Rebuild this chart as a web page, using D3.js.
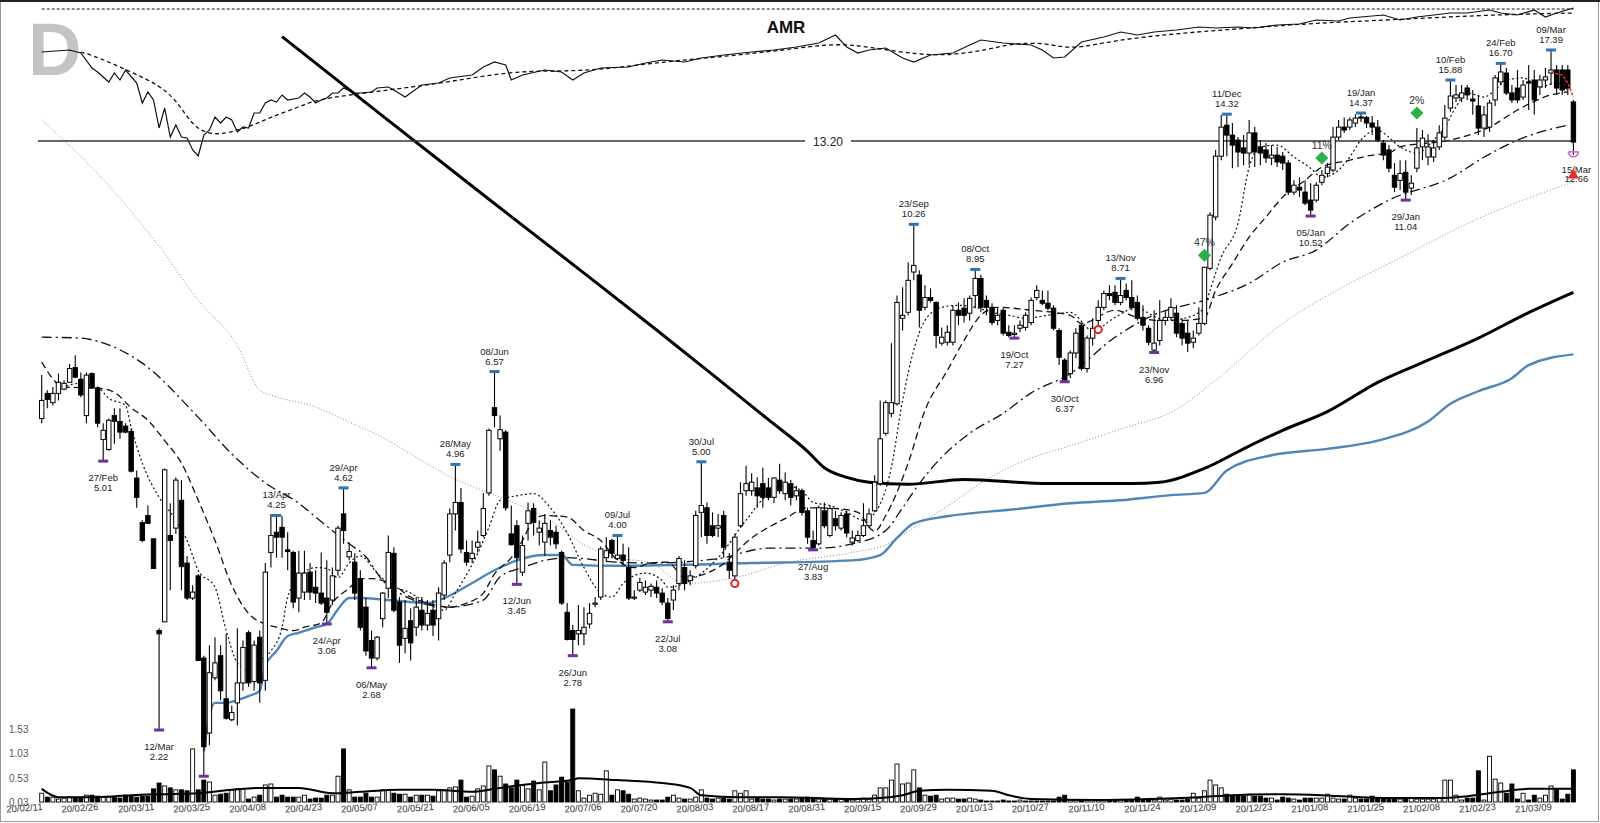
<!DOCTYPE html>
<html><head><meta charset="utf-8">
<script src="https://cdn.jsdelivr.net/npm/d3@7"></script>
<style>body{margin:0;background:#fff}svg{display:block}text{font-family:"Liberation Sans",Arial,sans-serif}</style>
</head><body><svg id="c" width="1600" height="823"></svg>
<script>
// ---------------- DATA ----------------
const openP=[5.70,6.15,5.98,6.15,6.23,6.36,6.65,6.42,5.75,6.53,
6.25,5.35,5.19,5.75,5.65,5.57,5.48,4.76,4.16,4.25,
3.96,3.00,3.08,4.00,4.09,4.45,3.68,3.31,3.54,2.76,
2.20,2.60,2.78,2.44,2.29,2.41,2.56,2.98,2.57,2.94,
2.58,3.80,4.04,4.10,3.83,3.80,3.31,3.37,3.58,3.42,
3.36,3.31,3.29,3.60,4.27,3.75,3.69,3.51,3.22,2.91,
2.76,3.11,3.41,3.79,3.27,2.93,3.09,3.03,3.19,3.05,
3.19,3.11,3.34,3.77,4.27,4.42,3.80,3.73,3.86,4.00,
4.55,5.89,5.36,5.47,4.02,4.12,3.58,4.15,4.34,4.04,
3.92,4.06,4.04,3.80,3.17,3.00,2.97,2.97,3.06,3.26,
3.32,3.74,3.94,3.73,3.77,3.63,3.31,3.39,3.37,3.39,
3.42,3.36,3.26,3.29,3.46,3.63,3.49,3.65,4.29,4.35,
4.12,4.09,4.25,3.69,3.54,4.12,4.58,4.58,4.62,4.68,
4.62,4.49,4.73,4.54,4.68,4.51,4.58,4.31,3.94,3.90,
4.31,4.00,4.21,4.09,4.27,3.92,3.94,4.00,4.12,4.31,
4.68,5.45,5.79,5.96,7.72,7.86,8.88,8.80,7.98,8.22,
8.10,7.16,7.18,7.18,7.91,7.96,7.84,8.27,8.71,8.15,
7.98,7.67,7.91,7.40,7.35,7.49,7.51,7.62,8.22,8.15,
8.08,7.96,7.44,6.80,6.53,6.95,7.56,6.63,7.27,7.67,
7.98,8.32,8.35,8.10,8.40,8.22,8.10,7.74,7.49,7.01,
7.22,7.67,7.74,7.84,7.60,7.38,7.18,7.38,7.60,8.98,
10.49,12.61,13.85,13.44,13.24,12.93,12.73,13.53,12.97,12.85,
12.54,12.65,12.61,12.35,11.31,11.48,11.31,11.04,11.04,11.65,
11.97,12.09,13.36,13.77,13.77,13.94,14.20,14.18,13.94,13.77,
13.12,12.85,11.90,11.72,12.01,11.45,12.16,12.97,12.58,12.58,
12.97,13.36,14.59,15.04,15.04,15.50,14.99,14.68,13.73,13.77,
14.95,15.79,16.22,15.27,15.50,15.08,15.79,15.88,15.55,15.88,
16.22,16.37,16.37,16.37,14.86];
const highP=[6.50,6.21,6.27,6.53,6.40,6.72,6.90,6.55,6.55,6.55,
6.27,5.62,5.70,5.88,5.88,5.62,5.53,4.87,4.19,4.38,
3.96,3.02,4.90,4.41,4.77,4.73,3.76,3.44,3.56,2.78,
2.87,2.94,2.87,2.97,2.39,3.02,2.91,3.00,2.91,3.00,
3.68,4.27,4.25,4.24,4.04,3.82,3.82,3.82,3.68,3.60,
3.80,3.71,3.63,4.12,4.62,3.92,3.79,3.60,3.31,3.00,
2.95,3.37,4.00,3.86,3.32,3.29,3.21,3.32,3.32,3.29,
3.29,3.42,3.71,4.34,4.96,4.62,3.94,3.94,4.06,4.55,
5.53,6.57,5.75,5.50,4.38,4.19,4.00,4.42,4.41,4.19,
4.27,4.19,4.12,3.82,3.26,3.05,3.24,3.22,3.26,3.32,
3.87,3.98,3.96,4.00,3.90,3.86,3.39,3.52,3.49,3.46,
3.49,3.41,3.31,3.44,3.76,3.71,3.60,4.31,5.00,4.42,
4.29,4.27,4.31,3.79,4.02,4.70,4.94,4.83,4.77,4.91,
4.76,4.77,4.97,4.84,4.73,4.65,4.61,4.35,4.06,4.38,
4.42,4.38,4.31,4.29,4.31,4.06,4.06,4.41,4.34,4.80,
6.02,6.02,7.16,8.27,8.48,9.15,10.26,8.93,8.53,8.45,
8.13,7.51,7.56,8.03,8.10,8.20,8.27,8.95,8.80,8.27,
8.08,7.96,7.96,7.56,7.56,7.67,7.86,8.22,8.53,8.40,
8.40,8.03,7.49,6.84,7.00,7.49,7.60,7.33,7.72,8.15,
8.40,8.53,8.53,8.71,8.58,8.66,8.27,8.03,7.56,7.91,
8.15,7.91,8.20,8.03,7.72,7.67,7.44,7.98,9.01,10.65,
12.85,14.28,14.32,13.94,13.36,13.44,14.07,13.77,13.24,13.12,
13.04,12.97,12.77,12.46,11.72,11.83,11.72,11.62,11.65,12.09,
12.35,13.77,14.07,14.18,14.18,14.32,14.37,14.24,14.24,14.07,
13.24,13.04,12.35,12.46,12.46,11.90,13.73,13.65,13.48,13.24,
13.85,14.72,15.88,15.64,15.64,15.64,15.41,15.18,14.68,14.95,
16.12,16.70,16.47,15.64,16.37,15.88,16.62,16.37,16.12,16.47,
17.39,16.62,16.62,16.62,14.95];
const lowP=[5.62,5.88,5.93,6.02,6.21,6.36,6.44,6.08,5.62,6.23,
5.55,5.01,5.17,5.28,5.36,5.45,4.84,4.35,3.92,4.15,
3.62,2.22,3.08,3.39,4.02,3.39,3.29,3.29,2.74,1.93,
2.12,2.58,2.43,2.29,2.28,2.25,2.50,2.53,2.50,2.41,
2.50,3.63,3.74,3.74,3.60,3.21,3.17,3.29,3.29,3.26,
3.24,3.06,3.24,3.54,3.90,3.71,3.29,3.00,2.78,2.68,
2.74,3.03,3.31,3.17,2.72,2.80,2.74,2.95,3.00,3.00,
2.95,2.91,3.29,3.69,4.06,3.79,3.65,3.68,3.80,3.98,
4.51,5.55,5.17,4.31,3.88,3.45,3.54,3.94,4.00,3.88,
3.76,3.88,3.84,3.24,2.91,2.78,2.87,2.87,3.02,3.22,
3.29,3.69,3.73,3.71,3.65,3.29,3.29,3.37,3.34,3.32,
3.31,3.24,3.08,3.19,3.39,3.39,3.44,3.62,3.98,3.90,
3.98,3.98,3.74,3.51,3.49,4.10,4.51,4.51,4.35,4.35,
4.45,4.41,4.54,4.45,4.38,4.45,4.25,3.90,3.83,3.88,
4.09,3.98,4.06,4.06,3.98,3.88,3.92,3.98,4.09,4.29,
4.65,5.41,5.72,5.93,7.44,7.79,8.66,7.51,7.91,8.10,
7.05,7.11,7.11,7.11,7.56,7.62,7.67,7.96,7.86,7.79,
7.56,7.56,7.33,7.29,7.27,7.40,7.44,7.56,8.15,8.03,
7.91,7.44,6.70,6.37,6.44,6.84,6.59,6.55,7.11,7.56,
7.91,8.15,8.03,8.03,8.15,7.91,7.67,7.44,7.11,6.96,
7.11,7.56,7.67,7.29,7.11,6.97,7.05,7.33,7.56,8.93,
10.39,12.46,12.61,12.16,12.20,12.27,12.27,12.20,12.27,12.35,
12.27,12.20,12.09,11.21,11.21,11.14,10.87,10.52,10.97,11.55,
11.83,12.01,13.24,13.53,13.65,13.77,13.98,13.73,13.44,13.16,
12.46,12.01,11.31,11.38,11.04,11.21,12.01,12.46,12.27,12.39,
12.85,13.24,14.42,14.86,14.86,14.95,14.29,13.44,13.36,13.57,
14.68,15.64,15.18,14.81,14.81,14.95,14.50,14.29,15.18,15.50,
15.64,15.18,15.18,15.18,12.66];
const closeP=[6.02,6.04,6.15,6.36,6.34,6.63,6.46,6.12,6.50,6.25,
5.62,5.50,5.67,5.65,5.47,5.47,4.86,4.49,3.94,4.15,
3.62,2.97,4.88,3.94,4.73,3.64,3.31,3.37,2.74,2.11,
2.64,2.72,2.50,2.30,2.34,2.56,2.85,2.56,2.87,2.56,
3.58,4.00,3.98,3.98,3.81,3.27,3.57,3.57,3.37,3.36,
3.26,3.17,3.54,4.09,4.06,3.81,3.36,3.03,2.82,2.76,
2.94,3.36,3.80,3.19,2.87,3.02,2.89,3.22,3.05,3.16,
3.05,3.36,3.68,4.27,4.42,3.84,3.69,3.79,3.92,4.34,
5.50,5.75,5.51,4.35,3.89,3.74,3.88,4.31,4.16,4.09,
4.15,3.98,3.90,3.26,2.92,2.92,3.00,3.03,3.16,3.26,
3.84,3.82,3.79,3.77,3.71,3.31,3.32,3.47,3.42,3.43,
3.36,3.27,3.11,3.39,3.73,3.46,3.54,4.25,4.38,4.00,
4.00,4.12,3.86,3.60,3.98,4.54,4.68,4.70,4.51,4.49,
4.49,4.76,4.58,4.70,4.49,4.58,4.29,3.98,3.86,4.35,
4.12,4.34,4.12,4.25,4.03,3.97,4.00,4.12,4.27,4.70,
5.36,5.98,5.98,8.10,7.79,8.66,9.06,7.91,8.22,8.15,
7.33,7.29,7.40,7.91,7.79,7.79,8.20,8.71,7.98,7.98,
7.62,7.79,7.38,7.33,7.38,7.56,7.79,8.15,8.40,8.08,
7.96,7.49,6.86,6.40,6.95,7.38,6.63,7.27,7.49,7.98,
8.32,8.27,8.10,8.27,8.22,7.98,7.72,7.56,7.18,7.16,
7.67,7.74,7.98,7.38,7.27,7.16,7.27,7.60,9.01,10.55,
12.61,13.77,13.44,13.04,12.77,12.73,13.53,12.77,12.73,12.54,
12.65,12.39,12.35,11.31,11.55,11.38,10.94,10.71,11.55,11.90,
12.20,13.36,13.77,13.65,14.07,14.15,14.15,13.94,13.77,13.24,
12.65,12.16,11.48,11.97,11.31,11.62,12.93,13.32,12.97,12.93,
13.53,14.15,15.13,15.18,15.27,15.18,14.90,13.73,14.29,14.81,
15.98,16.27,15.27,14.95,14.95,15.64,15.74,14.95,15.88,16.03,
16.37,15.50,15.41,15.50,13.16];
const volume=[0.21,0.13,0.13,0.09,0.11,0.13,0.11,0.13,0.17,0.17,
0.15,0.13,0.13,0.13,0.11,0.17,0.15,0.13,0.15,0.15,
0.30,0.42,0.36,0.32,0.28,0.28,0.26,1.12,0.28,0.48,
0.44,0.17,0.19,0.21,0.28,0.30,0.30,0.09,0.13,0.17,
0.38,0.40,0.13,0.17,0.13,0.13,0.13,0.17,0.09,0.11,
0.11,0.17,0.17,0.56,1.12,0.28,0.13,0.13,0.21,0.13,
0.13,0.28,0.28,0.21,0.19,0.19,0.13,0.17,0.17,0.17,
0.15,0.26,0.26,0.32,0.34,0.48,0.13,0.15,0.30,0.36,
0.77,0.69,0.56,0.40,0.32,0.48,0.38,0.30,0.46,0.28,
0.85,0.26,0.38,0.54,0.44,1.94,0.26,0.11,0.17,0.21,
0.19,0.67,0.17,0.28,0.26,0.19,0.09,0.11,0.09,0.07,
0.07,0.07,0.13,0.17,0.11,0.09,0.09,0.13,0.28,0.11,
0.09,0.11,0.11,0.09,0.26,0.21,0.26,0.09,0.11,0.09,
0.09,0.07,0.09,0.09,0.09,0.09,0.11,0.13,0.11,0.09,
0.09,0.09,0.09,0.09,0.07,0.07,0.09,0.11,0.09,0.17,
0.32,0.32,0.48,0.81,0.40,0.42,0.69,0.32,0.17,0.15,
0.17,0.09,0.11,0.11,0.09,0.09,0.11,0.09,0.07,0.05,
0.05,0.05,0.07,0.05,0.05,0.07,0.05,0.05,0.05,0.05,
0.05,0.05,0.13,0.17,0.07,0.07,0.07,0.07,0.07,0.07,
0.07,0.07,0.07,0.07,0.07,0.07,0.13,0.07,0.07,0.07,
0.13,0.07,0.09,0.07,0.07,0.09,0.21,0.11,0.26,0.48,
0.38,0.32,0.19,0.15,0.15,0.15,0.19,0.15,0.15,0.11,
0.11,0.07,0.13,0.11,0.09,0.07,0.11,0.11,0.11,0.11,
0.19,0.11,0.09,0.09,0.17,0.11,0.09,0.09,0.15,0.11,
0.11,0.09,0.09,0.09,0.09,0.11,0.09,0.09,0.09,0.09,
0.11,0.48,0.48,0.17,0.07,0.11,0.11,0.67,0.07,0.97,
0.50,0.42,0.21,0.40,0.09,0.21,0.07,0.17,0.11,0.17,
0.36,0.28,0.09,0.19,0.69];
const xTickLabels=["20/02/11","20/02/26","20/03/11","20/03/25","20/04/08","20/04/23","20/05/07","20/05/21","20/06/05","20/06/19","20/07/06","20/07/20","20/08/03","20/08/17","20/08/31","20/09/15","20/09/29","20/10/13","20/10/27","20/11/10","20/11/24","20/12/09","20/12/23","21/01/08","21/01/25","21/02/08","21/02/23","21/03/09"];
const xTickIndex=[0,10,20,30,40,50,60,70,80,90,100,110,120,130,140,150,160,170,180,190,200,210,220,230,240,250,260,270];
const volTicks=[0.03,0.53,1.03,1.53];
const refLevel=13.20;
// moving averages: [day index, price]
const ma10=[[3,6.21],[5,6.31],[7,6.34],[10,6.27],[12,6.06],[15,5.93],[16,5.55],[18,4.98],[21,4.49],[24,4.19],[26,3.94],[28,3.60],[31,3.42],[33,3.00],[35,2.72],[37,2.66],[39,2.74],[41,2.82],[43,3.03],[44,3.32],[46,3.52],[49,3.63],[51,3.62],[53,3.52],[55,3.68],[57,3.76],[60,3.57],[62,3.46],[66,3.36],[69,3.26],[72,3.19],[74,3.36],[78,3.79],[80,4.10],[82,4.45],[85,4.51],[88,4.54],[91,4.35],[94,4.03],[97,3.63],[100,3.36],[102,3.32],[104,3.46],[108,3.57],[111,3.49],[112,3.42],[115,3.46],[121,3.74],[126,4.19],[130,4.54],[133,4.65],[136,4.58],[138,4.42],[141,4.38],[144,4.29],[147,4.19],[149,4.28],[152,4.92],[154,6.02],[156,7.01],[158,7.67],[161,7.98],[164,8.03],[167,7.98],[170,7.86],[173,7.79],[176,7.72],[180,7.79],[184,7.86],[188,7.44],[192,7.74],[196,7.98],[198,7.84],[201,7.67],[205,7.74],[208,7.98],[209,8.40],[211,9.29],[214,10.29],[216,12.20],[218,12.97],[221,13.04],[224,12.58],[227,12.16],[229,11.83],[232,12.09],[234,12.58],[236,13.24],[239,13.65],[240,13.53],[243,12.97],[246,12.73],[249,13.24],[251,13.77],[253,14.64],[255,15.27],[258,15.08],[260,15.41],[262,15.88],[265,15.98],[268,15.55],[271,15.74],[273,15.41]];
const ma21=[[0,6.76],[4,6.27],[10,6.25],[13,6.17],[16,5.89],[19,5.67],[22,5.33],[25,4.98],[28,4.45],[31,3.94],[34,3.44],[37,3.16],[40,3.06],[42,3.03],[45,3.00],[47,3.03],[50,3.07],[52,3.26],[55,3.41],[57,3.51],[59,3.51],[63,3.44],[66,3.32],[69,3.26],[73,3.22],[76,3.26],[79,3.36],[81,3.56],[84,3.74],[86,3.94],[88,4.19],[90,4.25],[94,4.23],[97,4.06],[100,3.94],[103,3.71],[106,3.63],[109,3.68],[112,3.69],[115,3.52],[121,3.63],[127,3.97],[133,4.21],[137,4.35],[142,4.34],[146,4.29],[149,4.05],[151,4.25],[155,4.98],[158,5.84],[162,6.59],[165,7.22],[168,7.79],[171,7.98],[177,7.91],[184,7.79],[186,7.60],[192,7.91],[196,7.74],[200,7.67],[204,7.67],[208,7.74],[210,8.40],[213,9.11],[216,9.87],[219,10.49],[222,11.14],[226,11.72],[229,12.20],[234,12.46],[238,12.65],[241,12.73],[243,12.97],[252,13.24],[259,13.77],[264,14.50],[270,15.18],[273,15.32]];
const ma50=[[0,7.29],[7,7.27],[10,7.20],[18,6.74],[28,5.72],[34,5.12],[40,4.69],[46,4.41],[49,4.23],[55,3.90],[58,3.75],[61,3.49],[64,3.36],[68,3.26],[73,3.22],[79,3.29],[82,3.53],[86,3.63],[90,3.71],[94,3.74],[103,3.69],[109,3.68],[121,3.73],[130,3.85],[139,3.85],[145,3.90],[151,4.06],[154,4.35],[157,4.68],[160,4.98],[166,5.45],[172,5.79],[177,6.16],[184,6.53],[192,7.29],[198,7.74],[210,8.24],[216,8.58],[222,9.15],[228,9.49],[234,10.29],[241,11.04],[252,11.81],[258,12.57],[264,13.24],[273,13.85]];
const ma150=[[0,14.07],[7,12.60],[14,11.10],[21,9.60],[28,8.15],[35,7.11],[39,6.21],[41,6.12],[49,5.90],[55,5.64],[61,5.38],[67,5.07],[73,4.78],[79,4.58],[85,4.40],[91,4.19],[97,3.89],[103,3.74],[109,3.68],[115,3.46],[124,3.52],[133,3.68],[145,3.80],[151,3.89],[157,4.14],[163,4.42],[168,4.69],[175,4.99],[184,5.25],[193,5.52],[203,5.86],[210,6.40],[222,7.60],[234,8.58],[241,9.11],[257,10.44],[274,11.67]];
const ma200=[[43,18.11],[60,14.43],[80,11.07],[100,8.51],[110,7.45],[120,6.51],[130,5.68],[137,5.16],[140,4.91],[144,4.77],[148,4.70],[155,4.67],[165,4.74],[180,4.68],[195,4.68],[200,4.70],[208,4.90],[215,5.20],[222,5.50],[230,5.82],[239,6.36],[248,6.80],[257,7.27],[265,7.79],[274,8.35]];
const avwap=[[29,2.08],[30,2.32],[31,2.41],[33,2.41],[35,2.43],[37,2.46],[39,2.50],[40,2.70],[42,2.82],[44,2.95],[46,2.98],[49,3.03],[51,3.06],[53,3.20],[55,3.31],[57,3.31],[62,3.29],[69,3.26],[72,3.31],[76,3.43],[81,3.60],[85,3.71],[90,3.77],[93,3.77],[95,3.66],[103,3.65],[127,3.68],[145,3.71],[150,3.77],[153,3.97],[156,4.15],[162,4.24],[174,4.33],[184,4.41],[193,4.45],[202,4.52],[208,4.55],[212,4.87],[220,5.10],[230,5.20],[239,5.33],[248,5.65],[252,5.96],[257,6.19],[263,6.44],[266,6.70],[274,6.92]];
const ma5Red=[[270,16.27],[272,16.12],[273,15.74],[274,15.08]];
const volMA=[[0,0.30],[3,0.13],[10,0.13],[16,0.17],[21,0.19],[28,0.21],[34,0.28],[39,0.32],[46,0.32],[52,0.21],[57,0.24],[64,0.28],[70,0.28],[77,0.24],[82,0.32],[89,0.42],[95,0.48],[96,0.52],[103,0.48],[111,0.42],[116,0.32],[118,0.17],[125,0.13],[132,0.13],[145,0.09],[150,0.11],[154,0.17],[157,0.26],[162,0.28],[170,0.26],[173,0.17],[177,0.09],[189,0.07],[198,0.09],[207,0.13],[213,0.17],[222,0.19],[229,0.17],[236,0.13],[243,0.11],[250,0.11],[255,0.15],[261,0.24],[266,0.30],[274,0.30]];
// relative strength line (AMR pane), arbitrary units
const rsLine=[[0,108],[5,110],[7,107],[9,92],[10,88],[12,78],[13,87],[14,80],[15,90],[17,77],[18,57],[19,68],[20,60],[21,32],[22,52],[23,23],[24,35],[25,23],[26,22],[27,10],[28,4],[29,25],[30,30],[31,43],[32,37],[33,43],[34,40],[35,28],[36,33],[37,32],[38,47],[39,47],[40,57],[41,60],[42,58],[43,65],[44,60],[46,62],[47,67],[48,63],[49,57],[50,60],[51,62],[52,67],[53,67],[54,72],[56,67],[57,67],[59,68],[60,72],[62,73],[63,70],[65,63],[68,75],[71,77],[73,82],[77,85],[79,93],[81,98],[83,95],[84,80],[86,85],[90,90],[93,88],[95,80],[97,87],[100,92],[105,93],[108,97],[111,100],[115,98],[118,102],[122,105],[127,108],[131,110],[135,113],[139,117],[142,125],[144,113],[146,107],[148,110],[151,112],[154,102],[156,98],[159,105],[163,107],[166,115],[168,120],[172,117],[177,115],[179,110],[181,102],[183,103],[186,118],[190,123],[193,128],[196,125],[199,128],[203,130],[207,133],[210,132],[214,133],[217,132],[221,135],[225,136],[228,140],[232,139],[234,142],[236,143],[240,145],[243,140],[246,143],[249,145],[252,147],[255,147],[259,150],[261,147],[264,145],[267,150],[269,143],[271,147],[274,152]];
const rsMA=[[7,108],[10,103],[16,88],[21,75],[24,60],[26,43],[28,30],[31,25],[34,28],[38,35],[41,43],[46,53],[49,60],[55,65],[62,70],[73,78],[85,90],[97,88],[109,97],[121,103],[133,110],[142,117],[148,113],[157,105],[163,105],[169,110],[174,117],[180,117],[184,110],[192,120],[204,127],[216,132],[228,137],[241,140],[258,145],[274,147]];
// swing high / low annotations
const highMarks=[[42,"13/Apr",4.25],[54,"29/Apr",4.62],[74,"28/May",4.96],[81,"08/Jun",6.57],[103,"09/Jul",4.00],[118,"30/Jul",5.00],[156,"23/Sep",10.26],[167,"08/Oct",8.95],[193,"13/Nov",8.71],[212,"11/Dec",14.32],[236,"19/Jan",14.37],[252,"10/Feb",15.88],[261,"24/Feb",16.70],[270,"09/Mar",17.39]];
const lowMarks=[[11,"27/Feb",5.01],[21,"12/Mar",2.22],[29,"",1.93],[51,"24/Apr",3.06],[59,"06/May",2.68],[85,"12/Jun",3.45],[95,"26/Jun",2.78],[112,"22/Jul",3.08],[138,"27/Aug",3.83],[174,"19/Oct",7.27],[183,"30/Oct",6.37],[199,"23/Nov",6.96],[227,"05/Jan",10.52],[244,"29/Jan",11.04]];
const lastLow=[274,"15/Mar",12.66];
const diamonds=[[208,9.34,"47%"],[229,12.54,"11%"],[246,14.37,"2%"]];
const redCircles=[[124,3.46],[189,7.46]];
const redTriangle=[274,11.90];

// ---------------- SCALES ----------------
const svg=d3.select("#c");
const x=d3.scaleLinear().domain([0,274]).range([41.7,1573.4]);
const y=d3.scaleLog().domain([2.22,17.39]).range([730,50]);
const yv=d3.scaleLinear().domain([0.03,1.53]).range([802,729]);
const yr=d3.scaleLinear().domain([0,152]).range([160,8]);

// frame
svg.append("rect").attr("x",0.5).attr("y",0.5).attr("width",1598).attr("height",821).attr("fill","#fff").attr("stroke","#999");
svg.append("line").attr("x1",0).attr("x2",1600).attr("y1",1).attr("y2",1).attr("stroke","#222").attr("stroke-width",2);

// big letter
svg.append("text").attr("x",28).attr("y",75).attr("font-size",74).attr("font-weight","bold").attr("fill","#c4c4c4").text("D");

// top dashed line
svg.append("line").attr("x1",x(0)).attr("x2",x(274)).attr("y1",9).attr("y2",9).attr("stroke","#666").attr("stroke-width",1.5).attr("stroke-dasharray","3,2");

// RS pane
svg.append("text").attr("x",786).attr("y",33).attr("text-anchor","middle").attr("font-size",17).attr("font-weight","bold").attr("fill","#111").text("AMR");
svg.append("path").datum(rsMA).attr("d",d3.line().x(d=>x(d[0])).y(d=>yr(d[1])).curve(d3.curveBasis)).attr("fill","none").attr("stroke","#111").attr("stroke-width",1.3).attr("stroke-dasharray","4,3");
svg.append("path").datum(rsLine).attr("d",d3.line().x(d=>x(d[0])).y(d=>yr(d[1]))).attr("fill","none").attr("stroke","#111").attr("stroke-width",1.2);

// MA lines
const mline=(c)=>d3.line().x(d=>x(d[0])).y(d=>y(d[1])).curve(c||d3.curveMonotoneX);
const addLine=(data,stroke,w,dash,curve)=>svg.append("path").datum(data).attr("d",mline(curve)).attr("fill","none").attr("stroke",stroke).attr("stroke-width",w).attr("stroke-dasharray",dash||null);
addLine(ma150,"#8a8a8a",1,"1,2");
addLine(ma200,"#000",3);
addLine(avwap,"#4f86b8",2.4);
addLine(ma50,"#111",1.3,"10,4,2,4");
addLine(ma21,"#111",1.3,"7,4");
addLine(ma10,"#111",1.2,"2,2.5");

// reference line 13.20
svg.append("line").attr("x1",38).attr("x2",x(274)).attr("y1",y(refLevel)).attr("y2",y(refLevel)).attr("stroke","#333").attr("stroke-width",1.6);
svg.append("rect").attr("x",805).attr("y",y(refLevel)-7).attr("width",46).attr("height",14).attr("fill","#fff");
svg.append("text").attr("x",828).attr("y",y(refLevel)+4.5).attr("text-anchor","middle").attr("font-size",12).attr("fill","#222").text(refLevel.toFixed(2));

// volume
const idx=d3.range(openP.length);
svg.append("g").selectAll("rect").data(idx).join("rect")
 .attr("x",i=>x(i)-2).attr("width",4)
 .attr("y",i=>yv(volume[i])).attr("height",i=>Math.max(0.5,yv(0.03)-yv(volume[i])))
 .attr("fill",i=>closeP[i]>=openP[i]?"#fff":"#000").attr("stroke","#000").attr("stroke-width",0.9);
svg.append("path").datum(volMA).attr("d",d3.line().x(d=>x(d[0])).y(d=>yv(d[1])).curve(d3.curveMonotoneX)).attr("fill","none").attr("stroke","#000").attr("stroke-width",2);
svg.append("g").selectAll("text").data(volTicks).join("text").attr("x",9).attr("y",d=>yv(d)+4).attr("font-size",10).attr("fill","#555").text(d=>d.toFixed(2));

// candles
const cg=svg.append("g");
cg.selectAll("line").data(idx).join("line").attr("x1",i=>x(i)).attr("x2",i=>x(i)).attr("y1",i=>y(highP[i])).attr("y2",i=>y(lowP[i])).attr("stroke","#000").attr("stroke-width",1.1);
cg.selectAll("rect").data(idx).join("rect")
 .attr("x",i=>x(i)-2.2).attr("width",4.4)
 .attr("y",i=>y(Math.max(openP[i],closeP[i])))
 .attr("height",i=>Math.max(1.2,y(Math.min(openP[i],closeP[i]))-y(Math.max(openP[i],closeP[i]))))
 .attr("fill",i=>closeP[i]>=openP[i]?"#fff":"#000").attr("stroke","#000").attr("stroke-width",1);

// red short line
svg.append("path").datum(ma5Red).attr("d",mline(d3.curveLinear)).attr("fill","none").attr("stroke","#e03030").attr("stroke-width",1.5).attr("stroke-dasharray","3,1.5");

// high / low markers
const hg=svg.append("g");
highMarks.forEach(([i,lab,v])=>{
  hg.append("line").attr("x1",x(i)-5).attr("x2",x(i)+5).attr("y1",y(v)).attr("y2",y(v)).attr("stroke","#2e75b6").attr("stroke-width",3);
  hg.append("text").attr("x",x(i)).attr("y",y(v)-17).attr("text-anchor","middle").attr("font-size",9.5).attr("fill","#222").text(lab);
  hg.append("text").attr("x",x(i)).attr("y",y(v)-7).attr("text-anchor","middle").attr("font-size",9.5).attr("fill","#222").text(v.toFixed(2));
});
lowMarks.forEach(([i,lab,v])=>{
  hg.append("line").attr("x1",x(i)-5).attr("x2",x(i)+5).attr("y1",y(v)).attr("y2",y(v)).attr("stroke","#7030a0").attr("stroke-width",3);
  if(lab){
  hg.append("text").attr("x",x(i)).attr("y",y(v)+20).attr("text-anchor","middle").attr("font-size",9.5).attr("fill","#222").text(lab);
  hg.append("text").attr("x",x(i)).attr("y",y(v)+30).attr("text-anchor","middle").attr("font-size",9.5).attr("fill","#222").text(v.toFixed(2));}
});
{const [i,lab,v]=lastLow;const cx=x(i),cy=y(v);
 hg.append("path").attr("d",`M${cx-5},${cy-3} L${cx+5},${cy-3} M${cx-5},${cy-3} A5,5 0 0 0 ${cx+5},${cy-3}`).attr("fill","none").attr("stroke","#d36fd3").attr("stroke-width",1.8);
 hg.append("text").attr("x",cx+3).attr("y",cy+18).attr("text-anchor","middle").attr("font-size",9.5).attr("fill","#222").text(lab);
 hg.append("text").attr("x",cx+3).attr("y",cy+27).attr("text-anchor","middle").attr("font-size",9.5).attr("fill","#222").text(v.toFixed(2));}

svg.append("path").attr("d",d3.symbol().type(d3.symbolTriangle).size(55)).attr("transform",`translate(${x(redTriangle[0])},${y(redTriangle[1])})`).attr("fill","#e52b2b");
svg.append("g").selectAll("circle").data(redCircles).join("circle").attr("cx",d=>x(d[0])).attr("cy",d=>y(d[1])).attr("r",3.6).attr("fill","#fff").attr("stroke","#e02020").attr("stroke-width",2);
const dg=svg.append("g");
diamonds.forEach(([i,v,lab])=>{
  dg.append("path").attr("d",d3.symbol().type(d3.symbolDiamond2).size(110)).attr("transform",`translate(${x(i)},${y(v)})`).attr("fill","#2ab14a");
  dg.append("text").attr("x",x(i)).attr("y",y(v)-9).attr("text-anchor","middle").attr("font-size",10.5).attr("fill","#333").text(lab);
});

// x axis labels
svg.append("g").selectAll("text").data(xTickIndex).join("text")
 .attr("x",i=>x(i)+1).attr("y",810).attr("text-anchor","end").attr("font-size",9.5).attr("fill","#333")
 .attr("transform",i=>`rotate(-4,${x(i)+1},810)`)
 .text((i,k)=>xTickLabels[k]);
</script></body></html>
